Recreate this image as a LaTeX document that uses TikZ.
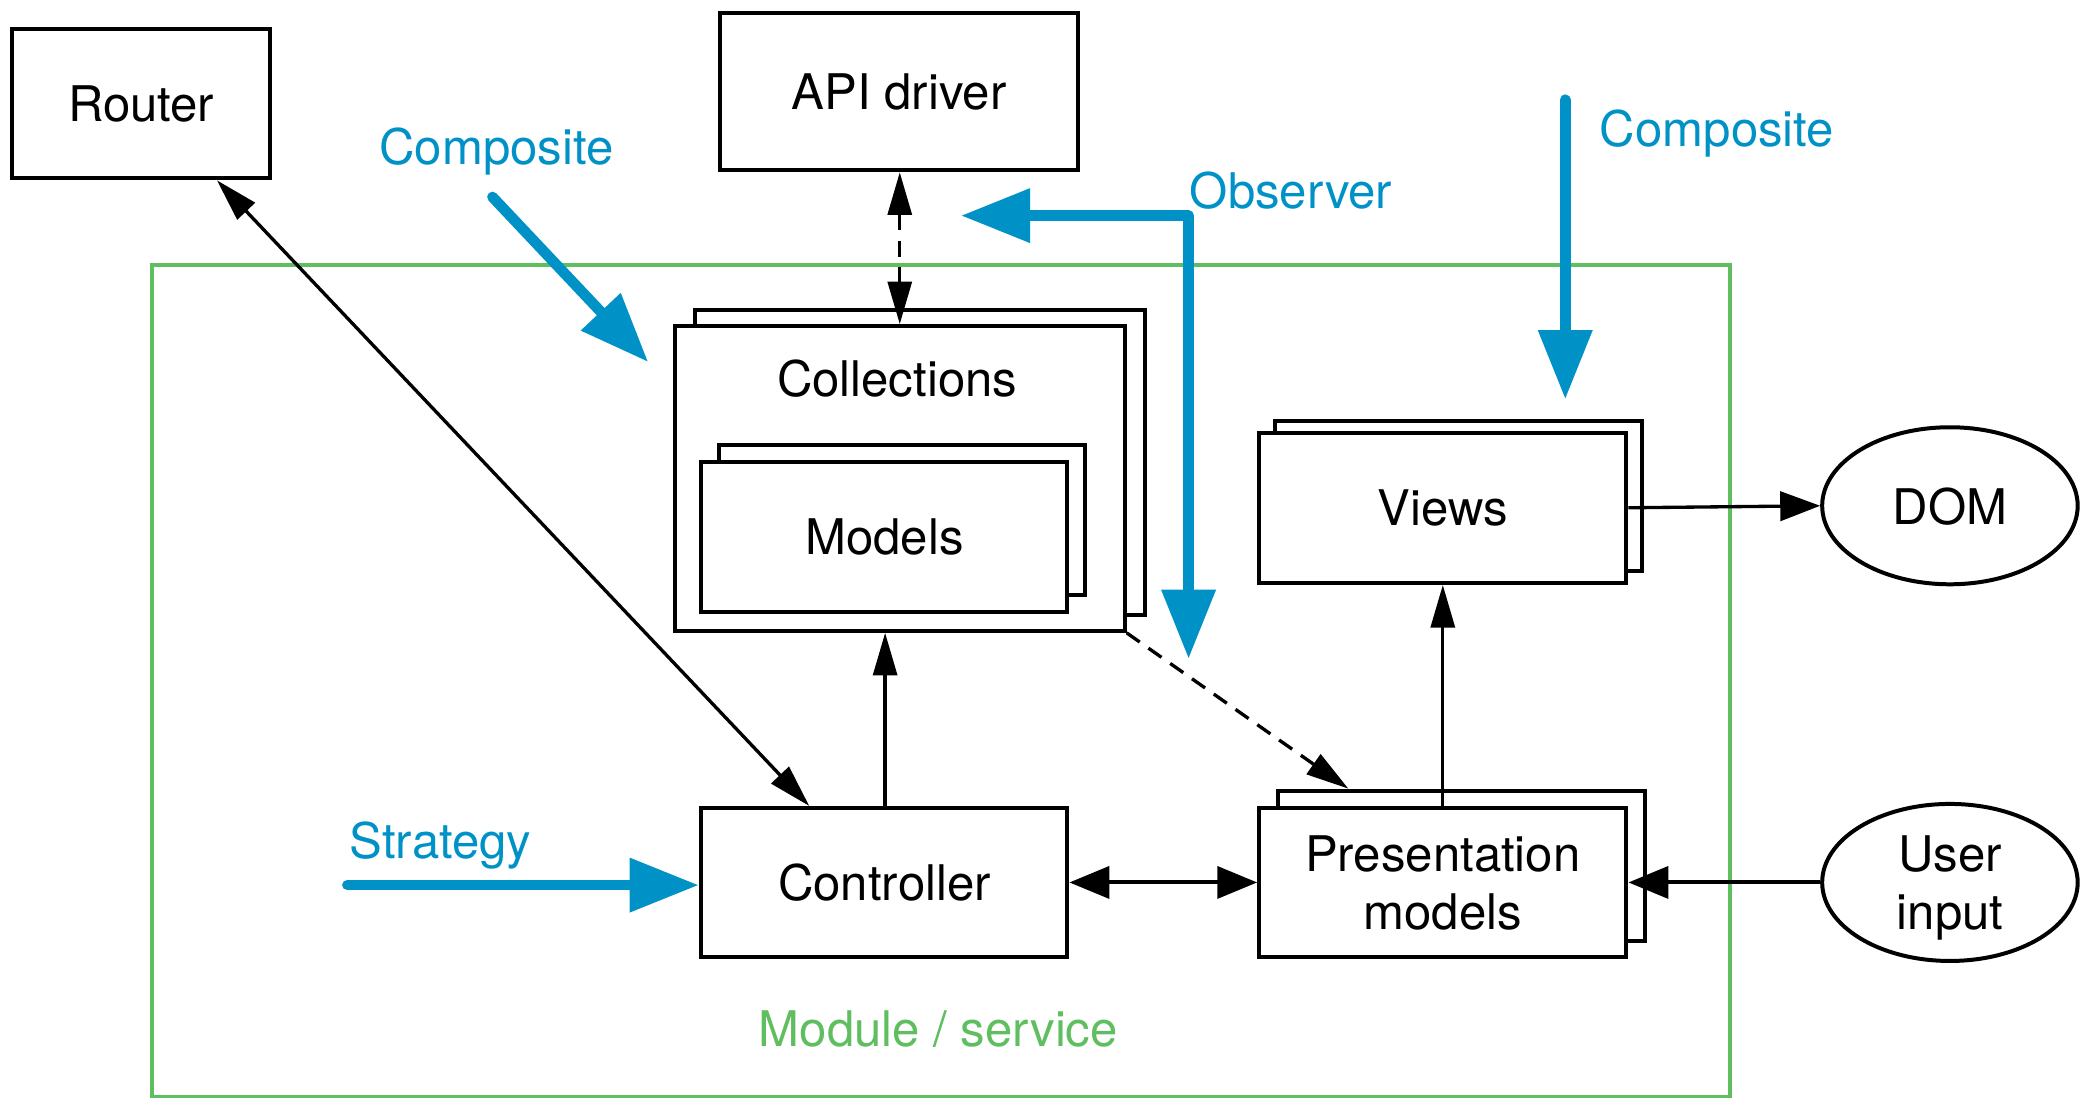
\documentclass[tikz,border=0pt]{standalone}
\usepackage{fontspec}
\setmainfont{TeX Gyre Heros}
\usetikzlibrary{arrows.meta,shapes.geometric,calc}
\definecolor{pblue}{RGB}{0,146,199}
\definecolor{pgreen}{RGB}{95,190,95}
\begin{document}
\begin{tikzpicture}[x=0.02cm,y=-0.02cm,
  every node/.style={font=\fontsize{21}{25}\selectfont, text depth=0pt},
  box/.style={draw, line width=0.06cm, fill=white, inner sep=0pt},
  ell/.style={draw, ellipse, line width=0.06cm, inner sep=0pt, minimum width=3.84cm, minimum height=2.36cm},
  thinarr/.style={line width=0.05cm, >={Triangle[length=0.64cm,width=0.36cm]}},
  dasharr/.style={thinarr, dash pattern=on 0.24cm off 0.16cm},
  thickarr/.style={line width=0.06cm, >={Triangle[length=0.6cm,width=0.48cm]}},
  bluearr/.style={draw=pblue, line width=0.16cm, line cap=round, line join=round,
     >={Triangle[length=1.04cm,width=0.78cm]}, pblue},
  bluelabel/.style={text=pblue}
]
\useasboundingbox (0,0) rectangle (1568,830);

% module frame
\node[draw=pgreen, line width=0.05cm, minimum width=23.72cm, minimum height=12.5cm, inner sep=0pt] (module) at (707,511.5) {};
\node[text=pgreen] (modlabel) at (705,773) {Module / service};

% boxes
\node[box, minimum width=3.88cm, minimum height=2.24cm] (router) at (106,78) {Router};
\node[box, minimum width=5.38cm, minimum height=2.36cm] (api) at (675.5,69) {API driver};

\node[box, minimum width=6.76cm, minimum height=4.58cm] (collback) at (691,347.5) {};
\node[box, minimum width=6.76cm, minimum height=4.58cm] (coll) at (676,359.5) {};
\node (colltext) at (674,284) {Collections};

\node[box, minimum width=5.5cm, minimum height=2.26cm] (modback) at (677.5,390.5) {};
\node[box, minimum width=5.5cm, minimum height=2.26cm] (models) at (664.5,403.5) {Models};

\node[box, minimum width=5.52cm, minimum height=2.26cm] (viewback) at (1096,372.5) {};
\node[box, minimum width=5.52cm, minimum height=2.26cm] (views) at (1084,381.5) {Views};

\node[box, minimum width=5.5cm, minimum height=2.24cm] (ctrl) at (664.5,663) {Controller};

\node[box, minimum width=5.52cm, minimum height=2.26cm] (presback) at (1098,650.5) {};
\node[box, minimum width=5.52cm, minimum height=2.24cm, align=center] (pres) at (1084,663) {Presentation\\models};

\node[ell] (dom) at (1465,380) {DOM};
\node[ell, align=center] (user) at (1465,663) {User\\input};

% black connectors
\draw[thinarr, <->] (163,0 |- router.south) -- (608,0 |- ctrl.north);
\draw[dasharr, <->] (676,0 |- api.south) -- (676,0 |- coll.north);
\draw[thinarr, ->] (665,0 |- ctrl.north) -- (665,0 |- coll.south);
\draw[dasharr, ->] (coll.south east) -- (1013,0 |- presback.north);
\draw[thinarr, ->] (pres.north) -- (views.south);
\draw[thinarr, ->, >={Triangle[length=0.6cm,width=0.44cm]}] (views.east) -- (dom.west);
\draw[thickarr, ->] (user.west) -- (pres.east);
\draw[thickarr, <->] (ctrl.east) -- (pres.west);

% blue pattern arrows
\coordinate (compAs) at (370,148);
\coordinate (compAe) at (487,272);
\draw[bluearr, ->] (compAs) -- (compAe);
\node[bluelabel] (compAl) at (373,110) {Composite};

\coordinate (obsA) at (893,495);
\coordinate (obsB) at (893,162);
\coordinate (obsC) at (722,162);
\draw[bluearr, <->] (obsA) -- (obsB) -- (obsC);
\node[bluelabel] (obsl) at (970,143) {Observer};

\coordinate (compBs) at (1176,75);
\coordinate (compBe) at (1176,300);
\draw[bluearr, ->] (compBs) -- (compBe);
\node[bluelabel] (compBl) at (1290,96) {Composite};

\coordinate (strs) at (261,665);
\coordinate (stre) at (525,665);
\draw[bluearr, ->] (strs) -- (stre);
\node[bluelabel] (strl) at (331,631) {Strategy};
\end{tikzpicture}
\end{document}
